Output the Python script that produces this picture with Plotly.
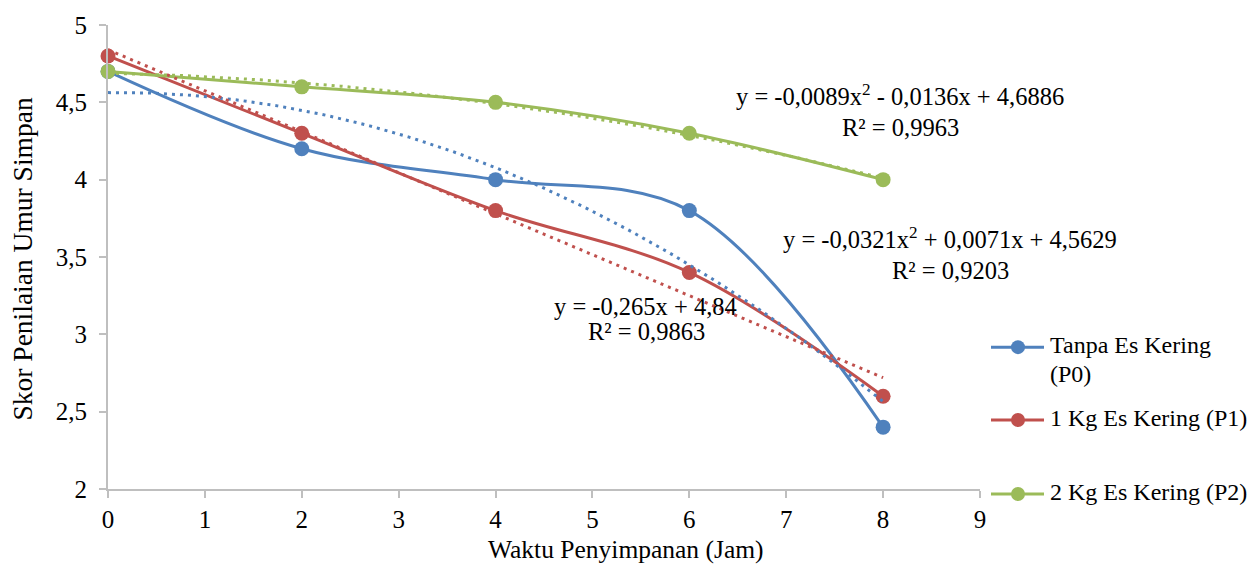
import numpy as np
import plotly.graph_objects as go

# Storage time (hours) and shelf-life scores per treatment
waktu = [0, 2, 4, 6, 8]
skor_p0 = [4.7, 4.2, 4.0, 3.8, 2.4]
skor_p1 = [4.8, 4.3, 3.8, 3.4, 2.6]
skor_p2 = [4.7, 4.6, 4.5, 4.3, 4.0]

nama_seri = [["Tanpa Es Kering", "(P0)"], ["1 Kg Es Kering (P1)"], ["2 Kg Es Kering (P2)"]]
warna = ["#4F81BD", "#C0504D", "#9BBB59"]

# Trendline coefficients (highest power first), as printed on the chart
koef_p0 = [-0.0321, 0.0071, 4.5629]
koef_p1 = [-0.265, 4.84]
koef_p2 = [-0.0089, -0.0136, 4.6886]

label_p0 = ["y = -0,0321x<sup>2</sup> + 0,0071x + 4,5629", "R² = 0,9203"]
label_p1 = ["y = -0,265x + 4,84", "R² = 0,9863"]
label_p2 = ["y = -0,0089x<sup>2</sup> - 0,0136x + 4,6886", "R² = 0,9963"]

FONT = "Liberation Serif"
FS = 24.5

# plot-area geometry in pixels
W, H = 1255, 572
L, R, T, B = 108, 275, 18, 83
PW, PH = W - L - R, H - T - B


def px_x(px):
    return (px - L) / PW


def px_y(py):
    return (H - B - py) / PH


fig = go.Figure()

series = [skor_p0, skor_p1, skor_p2]
for ys, c in zip(series, warna):
    fig.add_trace(go.Scatter(
        x=waktu, y=ys, mode="lines+markers",
        line=dict(color=c, width=3, shape="spline", smoothing=1.0),
        marker=dict(color=c, size=15),
        cliponaxis=False, showlegend=False,
    ))

x_tren = np.linspace(waktu[0], waktu[-1], 161)
for k, c in zip([koef_p0, koef_p1, koef_p2], warna):
    fig.add_trace(go.Scatter(
        x=x_tren, y=np.polyval(k, x_tren), mode="lines",
        line=dict(color=c, width=3, dash="3px,5px"),
        cliponaxis=False, showlegend=False, hoverinfo="skip",
    ))

axis_style = dict(
    showline=True, linecolor="#BFBFBF", linewidth=2,
    ticks="outside", ticklen=7, tickwidth=2, tickcolor="#BFBFBF",
    showgrid=False, zeroline=False,
    tickfont=dict(family=FONT, size=25, color="#000000"),
)
fig.update_xaxes(range=[0, 9], dtick=1, tick0=0, **axis_style)
fig.update_yaxes(range=[2, 5], dtick=0.5, tick0=2, ticklabelstandoff=7, **axis_style)

annotations = []


def teks(txt, cx, cy, angle=0, size=FS, anchor="center"):
    annotations.append(dict(
        text=txt, x=px_x(cx), y=px_y(cy), xref="paper", yref="paper",
        xanchor=anchor, yanchor="middle", showarrow=False, textangle=angle,
        font=dict(family=FONT, size=size, color="#000000"),
    ))


# trendline equations (first line carries a superscript, so it sits a bit higher)
teks(label_p2[0], 900, 89)
teks(label_p2[1], 900, 122)
teks(label_p0[0], 950, 234)
teks(label_p0[1], 950, 267)
teks(label_p1[0], 645, 304)
teks(label_p1[1], 646, 329)

# axis titles
teks("Waktu Penyimpanan (Jam)", 626, 550, size=25.5)
teks("Skor Penilaian Umur Simpan", 22, 256, angle=-90, size=27.5)

# legend
shapes = []
legend_y = [345, 419, 494]
for nm, c, ly in zip(nama_seri, warna, legend_y):
    shapes.append(dict(type="line", xref="paper", yref="paper",
                       x0=px_x(991), x1=px_x(1044), y0=px_y(ly), y1=px_y(ly),
                       line=dict(color=c, width=3)))
    shapes.append(dict(type="circle", xref="paper", yref="paper",
                       xsizemode="pixel", ysizemode="pixel",
                       xanchor=px_x(1018), yanchor=px_y(ly),
                       x0=-7, x1=7, y0=-7, y1=7,
                       fillcolor=c, line=dict(color=c, width=0)))
    for j, baris in enumerate(nm):
        teks(baris, 1048, ly - 2 + 29 * j, size=24, anchor="left")

fig.update_layout(
    width=W, height=H,
    margin=dict(l=L, r=R, t=T, b=B),
    paper_bgcolor="#FFFFFF", plot_bgcolor="#FFFFFF",
    font=dict(family=FONT, size=FS, color="#000000"),
    separators=", ",
    showlegend=False,
    annotations=annotations, shapes=shapes,
)

fig.write_html("out.html")
